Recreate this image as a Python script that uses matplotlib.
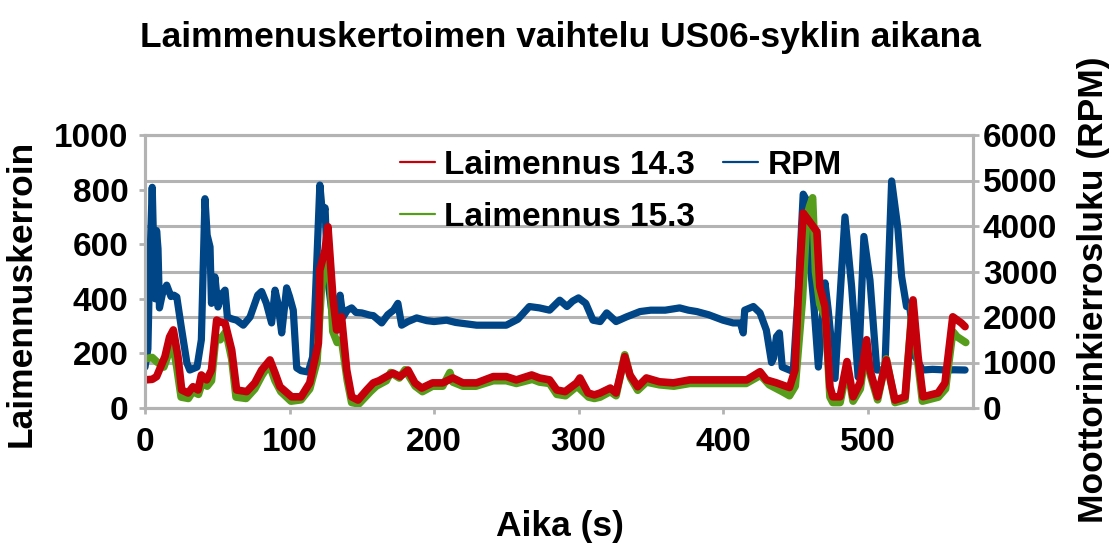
import matplotlib
matplotlib.use("Agg")
import matplotlib.pyplot as plt

plt.rcParams['font.family'] = ['Liberation Sans', 'DejaVu Sans']
plt.rcParams['font.weight'] = 'bold'

# RPM (blue)
rpm_t = [0, 2, 3, 5, 6, 7, 8, 9, 10, 12, 15, 18, 20, 22, 25, 29, 31, 36, 39, 41.5,
         43, 45, 46, 48.4, 50.5, 53, 55.4, 57, 60, 63.4, 68, 72.7, 76, 78, 80.7, 84,
         87.6, 90, 92, 94.6, 98, 100, 102.6, 105, 108, 113, 116, 118, 121, 123, 124.6,
         126.6, 129, 131.5, 134, 135, 137, 140, 143, 146, 150, 155.7, 158, 163.8, 168,
         172, 175, 177.6, 182, 188, 195, 200, 208.7, 215, 222, 229.5, 240, 250, 258,
         266, 273, 280, 287, 292, 296, 300, 305, 310, 315, 319.5, 326, 333, 342.6, 350,
         360, 370, 376, 381.8, 390, 400, 407, 412, 414, 415, 421, 425.6, 430, 433.6,
         435, 437, 439, 441, 448.6, 452, 455.5, 459, 460, 462.8, 466, 470.6, 472.8,
         477.5, 484.4, 489, 493.5, 497.5, 501.7, 506.4, 512, 516.7, 521, 523.6, 527,
         529, 533, 538, 545, 554.8, 560, 567.5]
rpm = [900, 1300, 2800, 4850, 3500, 2400, 3900, 3500, 2200, 2500, 2700, 2450, 2480,
       2440, 1800, 990, 835, 900, 1500, 4600, 3800, 3540, 2300, 2880, 2220, 2500, 2590,
       2000, 1960, 1930, 1820, 2000, 2300, 2480, 2560, 2300, 1870, 2590, 2300, 1650,
       2640, 2450, 2150, 880, 820, 790, 1120, 2500, 4900, 4200, 4400, 2810, 2200, 1650,
       2300, 2480, 2000, 2150, 2200, 2100, 2090, 2040, 2030, 1870, 2050, 2150, 2300,
       1820, 1900, 1980, 1920, 1900, 1930, 1880, 1850, 1820, 1820, 1820, 1950, 2230,
       2200, 2150, 2370, 2230, 2350, 2420, 2300, 1930, 1900, 2090, 1900, 2000, 2120,
       2150, 2150, 2200, 2150, 2120, 2050, 1930, 1870, 1870, 1650, 2150, 2230, 2090,
       1710, 1000, 1100, 1570, 1650, 900, 800, 2500, 4700, 4500, 3300, 2300, 900, 2750,
       2150, 650, 4200, 2670, 680, 3770, 2810, 835, 835, 4990, 3950, 2890, 2230, 2300,
       1130, 835, 850, 835, 840, 835]

# Laimennus 14.3 (red)
l143_t = [0, 5, 8, 13.8, 17, 19.6, 22.8, 25.4, 29.8, 33.2, 36.7, 39, 42.7, 46, 49.6,
          52, 55.4, 60, 63.4, 70.4, 76, 80.7, 86.5, 90, 93.4, 101.5, 108, 114, 120,
          121, 124.6, 126.6, 130, 132.6, 136, 139.6, 143, 147.4, 153.4, 158, 162, 167,
          171.6, 176.5, 182, 186.8, 191.5, 199, 206, 213, 220, 229.5, 241, 250, 257,
          267.6, 273, 280, 285, 290.7, 298.7, 301, 306.6, 311, 315, 322, 326, 332,
          335.6, 341, 347, 356, 365.6, 377, 388.7, 400, 416.4, 425.6, 430, 437, 446,
          449.8, 452, 455.5, 459, 465, 467, 470.6, 474, 476, 481, 485.8, 490, 494.8,
          499.4, 501.7, 507, 513, 519, 526, 531.5, 535, 538.4, 548.8, 553.6, 559, 565,
          567.5]
l143 = [103, 105, 115, 188, 260, 286, 188, 66, 55, 78, 66, 121, 103, 139, 322, 315,
        311, 212, 66, 60, 92, 139, 176, 128, 78, 41, 41, 92, 238, 505, 579, 664, 408,
        286, 334, 139, 41, 29, 66, 92, 100, 115, 128, 115, 139, 92, 73, 92, 92, 110, 92,
        92, 115, 115, 103, 121, 110, 103, 66, 60, 92, 110, 55, 48, 55, 73, 55, 188, 121,
        78, 110, 96, 92, 103, 103, 103, 103, 133, 103, 92, 75, 139, 400, 714, 689, 646,
        444, 371, 78, 41, 41, 170, 41, 92, 250, 139, 41, 176, 29, 41, 396, 188, 41, 55,
        92, 334, 311, 298]

# Laimennus 15.3 (green)
l153_t = [0, 5, 8, 13, 19, 22, 25, 30, 33, 37, 40, 43, 46, 49, 52, 56, 60, 63, 70, 76,
          81, 86, 90, 94, 101, 108, 114, 119, 122, 125, 127, 130, 133, 136, 140, 143,
          148, 156, 160, 167, 170, 176, 180, 187, 192, 199, 206, 211, 213, 220, 229,
          241, 250, 257, 268, 273, 280, 285, 291, 299, 307, 311, 315, 322, 326, 332,
          336, 341, 347, 356, 366, 377, 389, 400, 416, 426, 432, 441, 446, 450, 455,
          458, 460, 462, 464, 467, 471, 474, 476, 481, 486, 490, 495, 499, 502, 507,
          513, 519, 526, 531, 535, 538, 549, 554, 559, 562, 568]
l153 = [180, 185, 170, 150, 240, 150, 40, 35, 60, 50, 100, 80, 100, 260, 250, 280, 180,
        40, 35, 70, 120, 160, 100, 60, 25, 30, 70, 170, 430, 540, 600, 280, 240, 250,
        100, 20, 15, 60, 80, 100, 130, 110, 140, 80, 60, 80, 80, 130, 95, 80, 80, 100,
        100, 90, 105, 95, 90, 50, 45, 80, 40, 35, 40, 60, 45, 195, 110, 65, 95, 85, 80,
        90, 90, 90, 90, 120, 85, 60, 45, 80, 400, 700, 740, 770, 500, 380, 330, 40, 20,
        20, 150, 25, 70, 220, 120, 30, 180, 20, 30, 380, 160, 25, 40, 70, 280, 261, 240]

grey = '#b3b3b3'

fig = plt.figure(figsize=(11.14, 5.47), dpi=100)
ax = fig.add_axes([145/1114, 1-408/547, 828/1114, 273/547])
ax2 = ax.twinx()
ax.set_zorder(2)
ax2.set_zorder(1)
ax.patch.set_visible(False)

ax2.yaxis.grid(True, color=grey, linewidth=2.2)
ax2.set_axisbelow(True)
l_rpm, = ax2.plot(rpm_t, rpm, color='#004586', lw=5.2, solid_joinstyle='round',
                  solid_capstyle='round', label='RPM')
l_g, = ax.plot(l153_t, l153, color='#579d1c', lw=5.5, solid_joinstyle='round',
               solid_capstyle='round', label='Laimennus 15.3')
l_r, = ax.plot(l143_t, l143, color='#c5000b', lw=5.5, solid_joinstyle='round',
               solid_capstyle='round', label='Laimennus 14.3')

ax.set_xlim(0, 573)
ax.set_ylim(0, 1000)
ax2.set_ylim(0, 6000)
ax.set_xticks(range(0, 501, 100))
ax.set_yticks(range(0, 1001, 200))
ax2.set_yticks(range(0, 6001, 1000))

for a in (ax, ax2):
    for s in a.spines.values():
        s.set_color(grey)
        s.set_linewidth(2.2)
ax.tick_params(axis='x', colors=grey, labelcolor='black', length=4, width=2,
               labelsize=24, pad=10)
ax.tick_params(axis='y', colors=grey, labelcolor='black', length=4, width=2,
               labelsize=24, pad=8)
ax2.tick_params(axis='y', colors=grey, labelcolor='black', length=4, width=2,
                labelsize=24, pad=3)

ax.set_xlabel('Aika (s)', fontsize=25.5, fontweight='bold')
ax.xaxis.set_label_coords(0.501, -0.374)
ax.set_ylabel('Laimennuskerroin', fontsize=25.5, fontweight='bold', va='center')
ax.yaxis.set_label_coords(-0.150, 0.421)
ax2.set_ylabel('Moottorinkierrosluku (RPM)', fontsize=25.5, fontweight='bold',
               va='center')
ax2.yaxis.set_label_coords(1.145, 0.432)

fig.text(560/1114, 1-47/547, 'Laimmenuskertoimen vaihtelu US06-syklin aikana',
         ha='center', va='baseline', fontsize=25.5, fontweight='bold')

leg = ax.legend([l_r, l_g, l_rpm], ['Laimennus 14.3', 'Laimennus 15.3', 'RPM'],
                ncol=2, loc='upper left', bbox_to_anchor=(0.308, 0.946),
                frameon=False, fontsize=24, handlelength=1.05, handletextpad=0.27,
                columnspacing=0.85, labelspacing=0.63, borderpad=0, borderaxespad=0)
for h in leg.legend_handles:
    h.set_linewidth(1.6)

fig.savefig('out.png', dpi=100)
